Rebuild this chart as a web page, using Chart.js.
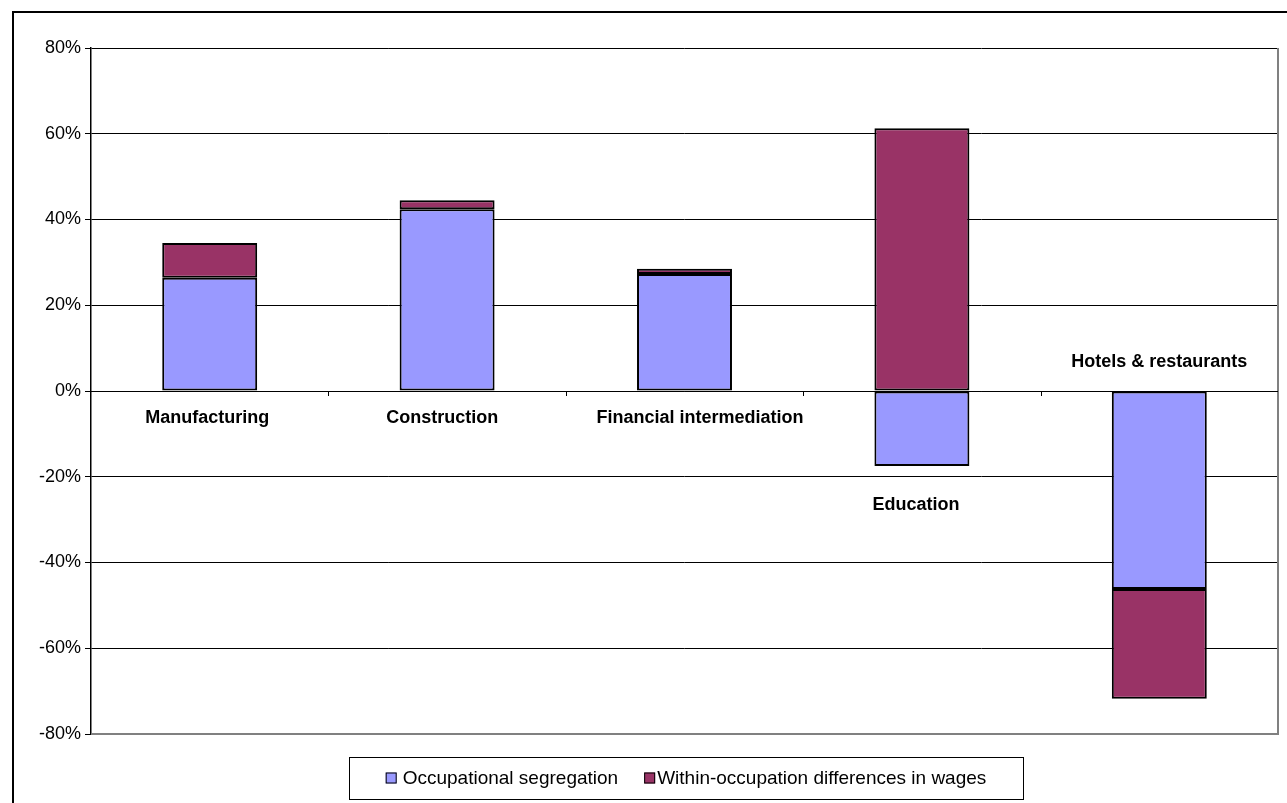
<!DOCTYPE html>
<html>
<head>
<meta charset="utf-8">
<script src="https://cdn.jsdelivr.net/npm/chart.js@4.4.0/dist/chart.umd.min.js"></script>
<style>
    html, body { margin: 0; padding: 0; background: #fff; }
    #wrap { width: 1287px; height: 803px; }
</style>
</head>
<body>
<div id="wrap"><canvas id="myChart"></canvas></div>
<script>
// industries along the category axis
const categories = ['Manufacturing', 'Construction', 'Financial intermediation', 'Education', 'Hotels & restaurants'];
// contribution to the gap, in %
const occupationalSegregation = [26.4, 42.4, 27.3, -17.5, -46.2];
const withinOccupation = [8.1, 2.1, 1.2, 61.3, -25.6];
// where each category name sits, in axis units (% up, category steps across)
const labelAt = [-6.3, -6.3, -6.3, -26.5, 6.8];
const labelNudge = [-0.01, -0.02, 0.065, -0.025, 0];
const yTicks = [-80, -60, -40, -20, 0, 20, 40, 60, 80];

const seriesNames = ['Occupational segregation', 'Within-occupation differences in wages'];
const seriesColors = ['#9999FF', '#993366'];
const FONT = '"Liberation Sans", Arial, sans-serif';

// frame, plot border, category names, axis ticks and legend
const decorPlugin = {
    id: 'decor',
    beforeDatasetsDraw(chart) {
        const ctx = chart.ctx;
        const a = chart.chartArea;
        ctx.save();
        ctx.strokeStyle = '#808080';
        ctx.lineWidth = 2;
        ctx.beginPath();
        ctx.moveTo(a.left, a.bottom);
        ctx.lineTo(a.right, a.bottom);
        ctx.lineTo(a.right, a.top);
        ctx.stroke();
        ctx.restore();
    },
    afterDraw(chart) {
        const ctx = chart.ctx;
        const x = chart.scales.x;
        const y = chart.scales.y;
        const a = chart.chartArea;
        ctx.save();

        // outer frame of the chart object
        ctx.strokeStyle = '#000';
        ctx.lineWidth = 2;
        ctx.strokeRect(13, 12, 1300, 820);

        // zero line and tick marks between categories
        const y0 = y.getPixelForValue(0);
        ctx.lineWidth = 1;
        ctx.beginPath();
        ctx.moveTo(a.left, y0 + 0.5);
        ctx.lineTo(a.right, y0 + 0.5);
        for (let i = 1; i < categories.length; i++) {
            const bx = Math.round((x.getPixelForValue(i - 1) + x.getPixelForValue(i)) / 2) + 0.5;
            ctx.moveTo(bx, y0);
            ctx.lineTo(bx, y0 + 5);
        }
        ctx.stroke();

        // category names
        ctx.fillStyle = '#000';
        ctx.font = 'bold 18px ' + FONT;
        ctx.textAlign = 'center';
        ctx.textBaseline = 'middle';
        categories.forEach((c, i) => {
            ctx.fillText(c, x.getPixelForValue(i + labelNudge[i]), y.getPixelForValue(labelAt[i]));
        });

        // legend
        const box = { l: 349, t: 757, w: 674, h: 42 };
        ctx.strokeStyle = '#000';
        ctx.lineWidth = 1;
        ctx.strokeRect(box.l + 0.5, box.t + 0.5, box.w, box.h);
        ctx.font = '19px ' + FONT;
        ctx.textAlign = 'left';
        const sq = 11;
        const widths = seriesNames.map((n) => ctx.measureText(n).width);
        const total = sq + 6 + widths[0] + 26 + sq + 2 + widths[1];
        let lx = box.l + (box.w - total) / 2;
        const ly = box.t + box.h / 2;
        seriesNames.forEach((n, i) => {
            ctx.fillStyle = seriesColors[i];
            ctx.fillRect(lx, ly - sq / 2, sq, sq);
            ctx.strokeStyle = '#000';
            ctx.strokeRect(lx + 0.5, ly - sq / 2 + 0.5, sq - 1, sq - 1);
            lx += sq + (i === 0 ? 6 : 2);
            ctx.fillStyle = '#000';
            ctx.fillText(n, lx, ly + 1);
            lx += widths[i] + 26;
        });
        ctx.restore();
    },
};

const canvas = document.getElementById('myChart');
new Chart(canvas, {
    type: 'bar',
    data: {
        labels: categories,
        datasets: [
            {
                label: seriesNames[0],
                data: occupationalSegregation,
                backgroundColor: seriesColors[0],
                borderColor: '#000',
                borderWidth: 2,
                borderSkipped: false,
            },
            {
                label: seriesNames[1],
                data: withinOccupation,
                backgroundColor: seriesColors[1],
                borderColor: '#000',
                borderWidth: 2,
                borderSkipped: false,
            },
        ],
    },
    options: {
        responsive: true,
        maintainAspectRatio: false,
        animation: false,
        devicePixelRatio: 1,
        layout: { padding: { left: 0, top: 48, right: 9, bottom: 69 } },
        plugins: {
            legend: { display: false },
            tooltip: { enabled: false },
        },
        datasets: { bar: { barPercentage: 0.4, categoryPercentage: 1 } },
        scales: {
            x: {
                stacked: true,
                display: false,
            },
            y: {
                stacked: true,
                min: -80,
                max: 80,
                afterFit(scale) { scale.width = 91; },
                afterBuildTicks(scale) { scale.ticks = yTicks.map((v) => ({ value: v })); },
                border: { display: true, color: '#000', width: 1.5 },
                grid: {
                    color: (c) => (c.index === 0 ? '#808080' : '#000'),
                    lineWidth: 1,
                    tickLength: 6,
                    drawTicks: true,
                    tickColor: '#000',
                },
                ticks: {
                    color: '#000',
                    font: { family: FONT, size: 18 },
                    padding: 4,
                    callback: (v) => v + '%',
                },
            },
        },
    },
    plugins: [decorPlugin],
});
</script>
</body>
</html>
